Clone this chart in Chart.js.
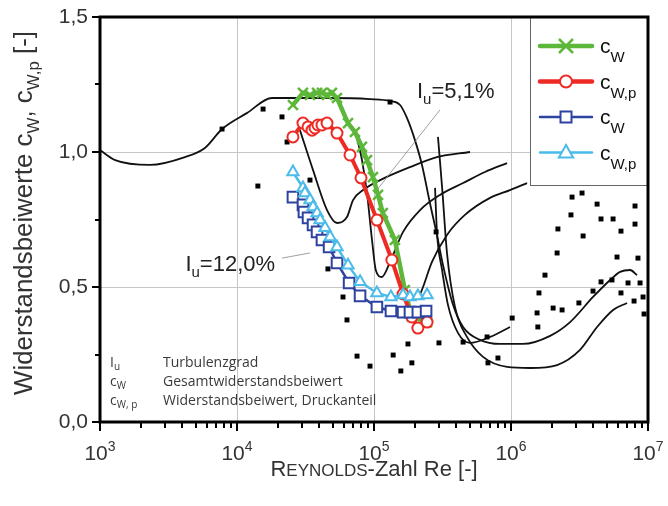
<!DOCTYPE html>
<html lang="de">
<head>
<meta charset="UTF-8">
<title>Widerstandsbeiwerte Zylinder</title>
<script src="https://cdn.jsdelivr.net/npm/chart.js"></script>
<style>
  html, body { margin: 0; padding: 0; background: #fff; }
  #wrap { width: 668px; height: 506px; }
</style>
</head>
<body>
<div id="wrap"><canvas id="chart" width="668" height="506"></canvas></div>
<script>
// measured series, Iu = 5,1 %
var reGreen = [25600, 30300, 34100, 38400, 41700, 45400, 49300, 53700, 64600, 72600, 81700, 88900, 98300, 107000, 116000, 142000, 168000, 189000, 244000];
var cwGreen = [1.174, 1.219, 1.211, 1.219, 1.219, 1.211, 1.219, 1.200, 1.107, 1.074, 1.019, 0.970, 0.907, 0.841, 0.774, 0.674, 0.489, 0.39, 0.37];
var reRed = [25600, 30300, 33000, 35300, 37100, 39000, 41700, 45400, 53700, 66800, 80400, 105000, 135000, 163000, 189000, 209000, 244000];
var cwRed = [1.056, 1.107, 1.093, 1.081, 1.089, 1.100, 1.100, 1.107, 1.070, 0.989, 0.904, 0.748, 0.600, 0.474, 0.389, 0.348, 0.370];
// measured series, Iu = 12,0 %
var reBlue = [25600, 30300, 30800, 33000, 35900, 38400, 41700, 47000, 53700, 65800, 79100, 105000, 133000, 163000, 183000, 209000, 240000];
var cwBlue = [0.833, 0.804, 0.778, 0.756, 0.730, 0.704, 0.674, 0.648, 0.589, 0.515, 0.467, 0.426, 0.411, 0.407, 0.407, 0.407, 0.411];
var reCyan = [25600, 30300, 31300, 34100, 35900, 38400, 40400, 43900, 47800, 53700, 64600, 79100, 105000, 133000, 163000, 183000, 209000, 244000];
var cwCyan = [0.926, 0.867, 0.848, 0.822, 0.796, 0.774, 0.748, 0.719, 0.685, 0.648, 0.581, 0.519, 0.478, 0.463, 0.470, 0.463, 0.467, 0.470];

// literature curves (black)
var reMain = [1000, 1290, 2320, 4170, 5830, 7780, 11800, 18000, 23200, 47800, 93500, 131000, 155000, 174000, 199000, 224000, 256000, 288000, 319000, 378000, 447000, 594000, 832000, 1220000, 1930000, 2700000, 3970000, 5290000, 6250000, 7400000, 8320000];
var cwMain = [1.007, 0.970, 0.952, 0.981, 1.015, 1.085, 1.144, 1.2, 1.2, 1.2, 1.196, 1.189, 1.174, 1.126, 1.044, 0.952, 0.811, 0.693, 0.581, 0.433, 0.352, 0.304, 0.289, 0.289, 0.319, 0.370, 0.463, 0.526, 0.556, 0.563, 0.544];
var reLowU = [293000, 314000, 341000, 390000, 477000, 625000, 936000, 1380000, 2170000, 3190000, 4250000, 5560000, 7030000];
var cwLowU = [1.056, 0.870, 0.626, 0.426, 0.315, 0.241, 0.204, 0.200, 0.211, 0.267, 0.352, 0.415, 0.441];
var reDrop = [279000, 288000, 314000, 347000, 410000, 502000, 703000, 984000];
var cwDrop = [0.867, 0.704, 0.563, 0.433, 0.330, 0.293, 0.315, 0.352];
var reCurveA = [28800, 35900, 45400, 53700, 63500, 70300, 83200, 111000, 183000, 288000, 502000];
var cwCurveA = [1.081, 0.933, 0.785, 0.737, 0.759, 0.822, 0.859, 0.896, 0.944, 0.981, 1.0];
var reCurveB = [72600, 81700, 88900, 96700, 103000, 114000, 131000, 163000, 217000, 303000, 447000, 646000, 936000];
var cwCurveB = [1.081, 0.970, 0.848, 0.674, 0.563, 0.537, 0.593, 0.704, 0.785, 0.841, 0.885, 0.926, 0.959];
var reCurveC = [209000, 228000, 265000, 341000, 461000, 703000, 984000, 1310000];
var cwCurveC = [0.452, 0.5, 0.593, 0.693, 0.767, 0.830, 0.859, 0.885];

// single black measuring points
var reDots = [15500, 21300, 23200, 14200, 34100, 46100, 59400, 63500, 75200, 93500, 138000, 177000, 157000, 189000, 298000, 447000, 669000, 679000, 803000,
  1020000, 1550000, 1570000, 1600000, 1770000, 2030000, 2360000, 2170000, 2200000, 2740000, 2790000, 3300000, 3360000, 3130000, 3970000, 4250000, 4540000,
  5560000, 4540000, 5460000, 5940000, 6350000, 6350000, 7150000, 8040000, 8040000, 8450000, 8750000, 7910000, 9200000, 9360000, 7780, 131000, 284000];
var cwDots = [1.159, 1.130, 1.037, 0.874, 0.896, 0.567, 0.463, 0.378, 0.244, 0.207, 0.248, 0.289, 0.189, 0.219, 0.293, 0.296, 0.315, 0.219, 0.237,
  0.385, 0.404, 0.352, 0.478, 0.544, 0.422, 0.415, 0.626, 0.715, 0.767, 0.833, 0.848, 0.689, 0.441, 0.485, 0.807, 0.752,
  0.752, 0.519, 0.526, 0.611, 0.707, 0.478, 0.515, 0.800, 0.733, 0.607, 0.515, 0.448, 0.463, 0.400, 1.085, 1.185, 0.704];

// pointer lines of the Iu labels
var rePtr51 = [105000, 303000], cwPtr51 = [0.859, 1.156];
var rePtr120 = [21300, 34100], cwPtr120 = [0.607, 0.626];

var xTicks = [];
[1e3, 1e4, 1e5, 1e6].forEach(function (d) { for (var k = 1; k < 10; k++) xTicks.push(k * d); });
xTicks.push(1e7);
var yLabels = [0, 0.5, 1.0, 1.5];

var GREEN = '#5db73a', RED = '#ee2a24', BLUE = '#2e43a0', CYAN = '#4bbbe9';
var SANS = '"Liberation Sans", Arial, sans-serif';
var TXT = '#333333';

function pts(re, cw) { return re.map(function (v, i) { return { x: v, y: cw[i] }; }); }
function isDecade(v) { var l = Math.log10(v); return Math.abs(l - Math.round(l)) < 1e-9; }

function blackCurve(re, cw) {
  return { type: 'line', data: pts(re, cw), borderColor: '#111', borderWidth: 1.8, pointRadius: 0,
           cubicInterpolationMode: 'monotone', order: 8 };
}

// draws text made of parts with different size / vertical offset
function rich(ctx, parts, x, y, align, fitWidth) {
  var w = 0, k = 1;
  parts.forEach(function (p) { ctx.font = p.size + 'px ' + (p.family || SANS); p.w = ctx.measureText(p.t).width; w += p.w; });
  if (fitWidth) { k = fitWidth / w; w = fitWidth; }
  var cx = align === 'center' ? x - w / 2 : (align === 'right' ? x - w : x);
  parts.forEach(function (p) {
    ctx.font = (p.size * k) + 'px ' + (p.family || SANS);
    ctx.fillText(p.t, cx, y + (p.dy || 0) * k);
    cx += p.w * k;
  });
}

function marker(ctx, style, x, y, color, r) {
  ctx.save();
  ctx.strokeStyle = color; ctx.fillStyle = '#fff';
  ctx.beginPath();
  if (style === 'x') {
    ctx.lineWidth = 2.5;
    ctx.moveTo(x - r, y - r); ctx.lineTo(x + r, y + r);
    ctx.moveTo(x + r, y - r); ctx.lineTo(x - r, y + r);
    ctx.stroke();
  } else if (style === 'o') {
    ctx.lineWidth = 2;
    ctx.arc(x, y, r, 0, Math.PI * 2); ctx.fill(); ctx.stroke();
  } else if (style === 's') {
    ctx.lineWidth = 2;
    ctx.rect(x - r, y - r, 2 * r, 2 * r); ctx.fill(); ctx.stroke();
  } else {
    ctx.lineWidth = 2;
    ctx.moveTo(x, y - r * 1.15); ctx.lineTo(x + r * 1.1, y + r * 0.75); ctx.lineTo(x - r * 1.1, y + r * 0.75); ctx.closePath();
    ctx.fill(); ctx.stroke();
  }
  ctx.restore();
}

var deco = {
  id: 'deco',
  afterDraw: function (chart) {
    var ctx = chart.ctx, a = chart.chartArea, xs = chart.scales.x, ys = chart.scales.y;
    ctx.save();
    ctx.textBaseline = 'alphabetic'; ctx.textAlign = 'left';

    // legend box
    var lx = a.right - 118, lb = a.top + 168;
    ctx.fillStyle = '#fff';
    ctx.fillRect(lx, a.top, a.right - lx, lb - a.top);
    ctx.strokeStyle = '#666'; ctx.lineWidth = 1;
    ctx.strokeRect(lx + 0.5, a.top, a.right - lx, lb - a.top + 0.5);
    var items = [
      { c: GREEN, w: 4.5, s: 'x', r: 7, sub: 'W' },
      { c: RED, w: 4.5, s: 'o', r: 6, sub: 'W,p' },
      { c: BLUE, w: 2.5, s: 's', r: 5.5, sub: 'W' },
      { c: CYAN, w: 2.5, s: 't', r: 6.5, sub: 'W,p' }
    ];
    items.forEach(function (it, i) {
      var yy = a.top + 29 + i * 35.5, x0 = lx + 10, x1 = lx + 62;
      ctx.strokeStyle = it.c; ctx.lineWidth = it.w; ctx.lineCap = 'round';
      ctx.beginPath(); ctx.moveTo(x0, yy); ctx.lineTo(x1, yy); ctx.stroke();
      ctx.lineCap = 'butt';
      marker(ctx, it.s, (x0 + x1) / 2, yy, it.c, it.r);
      ctx.fillStyle = '#111';
      rich(ctx, [{ t: 'c', size: 21 }, { t: it.sub, size: 15, dy: 9 }], x1 + 8, yy + 7, 'left');
    });

    // frame
    ctx.strokeStyle = '#000'; ctx.lineWidth = 3;
    ctx.strokeRect(a.left, a.top, a.right - a.left, a.bottom - a.top);

    // tick marks
    ctx.lineWidth = 2;
    xTicks.forEach(function (v) {
      var px = Math.round(xs.getPixelForValue(v));
      ctx.beginPath(); ctx.moveTo(px, a.bottom); ctx.lineTo(px, a.bottom + (isDecade(v) ? 9 : 6)); ctx.stroke();
    });
    for (var t = 0; t <= 1.5001; t += 0.25) {
      var py = Math.round(ys.getPixelForValue(t));
      var major = Math.abs(t * 2 - Math.round(t * 2)) < 1e-9;
      ctx.beginPath(); ctx.moveTo(a.left, py); ctx.lineTo(a.left - (major ? 8 : 5), py); ctx.stroke();
    }

    // x tick labels 10^n
    ctx.fillStyle = TXT;
    [3, 4, 5, 6, 7].forEach(function (e) {
      var px = xs.getPixelForValue(Math.pow(10, e));
      rich(ctx, [{ t: '10', size: 21 }, { t: String(e), size: 14, dy: -9 }], px, a.bottom + 38, 'center');
    });

    // axis titles
    rich(ctx, [{ t: 'R', size: 22 }, { t: 'EYNOLDS', size: 17 }, { t: '-Zahl Re [-]', size: 22 }],
         (a.left + a.right) / 2, a.bottom + 54, 'center');
    ctx.save();
    ctx.translate(32, a.top + 196);
    ctx.rotate(-Math.PI / 2);
    rich(ctx, [{ t: 'Widerstandsbeiwerte c', size: 24.5 }, { t: 'W', size: 16, dy: 7 }, { t: ', c', size: 24.5 },
               { t: 'W,p', size: 16, dy: 7 }, { t: ' [-]', size: 24.5 }], 0, 0, 'center', 364);
    ctx.restore();

    // Iu annotations
    ctx.fillStyle = '#222';
    rich(ctx, [{ t: 'I', size: 22 }, { t: 'u', size: 15, dy: 6 }, { t: '=5,1%', size: 22 }],
         xs.getPixelForValue(206000), ys.getPixelForValue(1.2), 'left');
    rich(ctx, [{ t: 'I', size: 22 }, { t: 'u', size: 15, dy: 6 }, { t: '=12,0%', size: 22 }],
         xs.getPixelForValue(4200), ys.getPixelForValue(0.56), 'left');

    // definitions
    var DEF = '"Open Sans", sans-serif';
    ctx.fillStyle = '#3a3a3a';
    var dx = a.left + 10, tx = a.left + 63, by = a.bottom - 55;
    rich(ctx, [{ t: 'I', size: 14, family: DEF }, { t: 'u', size: 10, dy: 3, family: DEF }], dx, by, 'left');
    rich(ctx, [{ t: 'c', size: 14, family: DEF }, { t: 'W', size: 10, dy: 3, family: DEF }], dx, by + 19, 'left');
    rich(ctx, [{ t: 'c', size: 14, family: DEF }, { t: 'W, p', size: 10, dy: 3, family: DEF }], dx, by + 38, 'left');
    rich(ctx, [{ t: 'Turbulenzgrad', size: 14, family: DEF }], tx, by, 'left');
    rich(ctx, [{ t: 'Gesamtwiderstandsbeiwert', size: 14, family: DEF }], tx, by + 19, 'left');
    rich(ctx, [{ t: 'Widerstandsbeiwert, Druckanteil', size: 14, family: DEF }], tx, by + 38, 'left');
    ctx.restore();
  }
};

new Chart(document.getElementById('chart'), {
  data: {
    datasets: [
      { type: 'line', data: pts(reCyan, cwCyan), borderColor: CYAN, borderWidth: 2.5, pointStyle: 'triangle',
        pointRadius: 6.5, pointBorderWidth: 2, pointBackgroundColor: '#fff', pointBorderColor: CYAN, order: 1 },
      { type: 'line', data: pts(reBlue, cwBlue), borderColor: BLUE, borderWidth: 2.5, pointStyle: 'rect',
        pointRadius: 7.5, pointBorderWidth: 2, pointBackgroundColor: '#fff', pointBorderColor: BLUE, order: 2 },
      { type: 'line', data: pts(reRed, cwRed), borderColor: RED, borderWidth: 4, pointStyle: 'circle',
        pointRadius: 5.5, pointBorderWidth: 2, pointBackgroundColor: '#fff', pointBorderColor: RED, order: 3 },
      { type: 'line', data: pts(reGreen, cwGreen), borderColor: GREEN, borderWidth: 4.5, pointStyle: 'crossRot',
        pointRadius: 7, pointBorderWidth: 2.5, pointBorderColor: GREEN, order: 4 },
      { type: 'line', data: pts(rePtr51, cwPtr51), borderColor: '#888', borderWidth: 0.8, pointRadius: 0, order: 6 },
      { type: 'line', data: pts(rePtr120, cwPtr120), borderColor: '#888', borderWidth: 0.8, pointRadius: 0, order: 6 },
      { type: 'scatter', data: pts(reDots, cwDots), pointStyle: 'rect', pointRadius: 3.5, borderWidth: 0,
        backgroundColor: '#000', order: 7 },
      blackCurve(reMain, cwMain),
      blackCurve(reLowU, cwLowU),
      blackCurve(reDrop, cwDrop),
      blackCurve(reCurveA, cwCurveA),
      blackCurve(reCurveB, cwCurveB),
      blackCurve(reCurveC, cwCurveC)
    ]
  },
  options: {
    responsive: false,
    animation: false,
    layout: { padding: { top: 17, right: 20, left: 0, bottom: 0 } },
    plugins: { legend: { display: false }, tooltip: { enabled: false } },
    scales: {
      x: {
        type: 'logarithmic', min: 1e3, max: 1e7,
        afterBuildTicks: function (s) { s.ticks = xTicks.map(function (v) { return { value: v }; }); },
        afterFit: function (s) { s.height = 84; s.paddingLeft = 0; s.paddingRight = 0; },
        ticks: { display: false },
        grid: { drawTicks: false, lineWidth: 1,
                color: function (c) { return c.tick && isDecade(c.tick.value) ? '#c6c6c6' : 'rgba(0,0,0,0)'; } },
        border: { display: false }
      },
      y: {
        min: 0, max: 1.5,
        afterFit: function (s) { s.width = 100; s.paddingTop = 0; s.paddingBottom = 0; },
        ticks: { stepSize: 0.25, padding: 12, color: TXT, font: { family: SANS, size: 21 },
                 callback: function (v) { return yLabels.indexOf(v) >= 0 ? v.toFixed(1).replace('.', ',') : ''; } },
        grid: { drawTicks: false, lineWidth: 1,
                color: function (c) { return c.tick && (c.tick.value === 0.5 || c.tick.value === 1) ? '#c6c6c6' : 'rgba(0,0,0,0)'; } },
        border: { display: false }
      }
    }
  },
  plugins: [deco]
});
</script>
</body>
</html>
